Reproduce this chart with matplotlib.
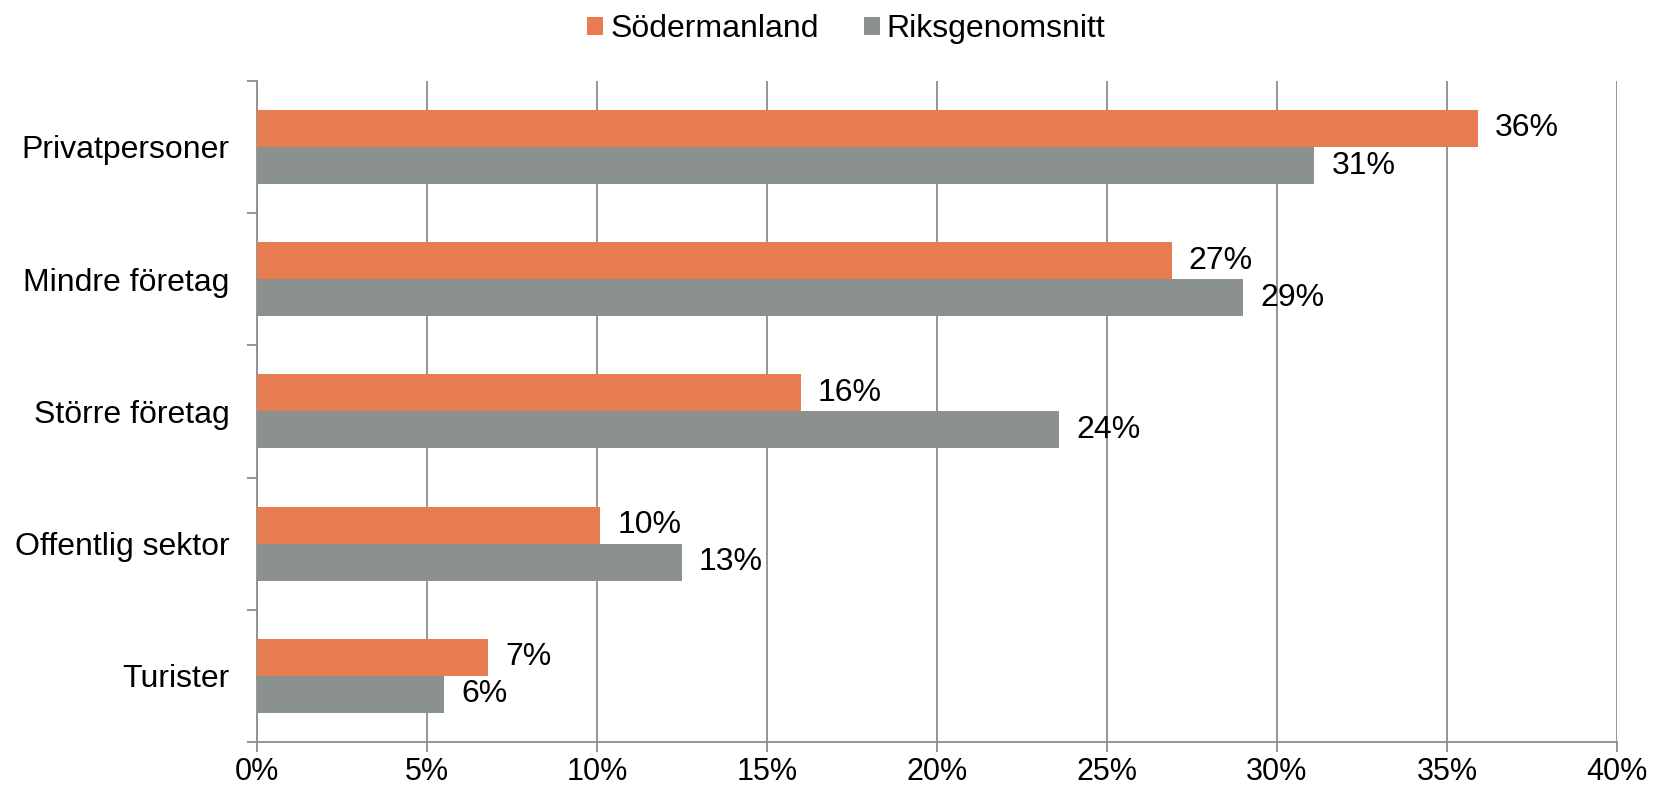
import matplotlib.pyplot as plt
import numpy as np

plt.rcParams['font.family'] = ['Liberation Sans', 'DejaVu Sans']

categories = ['Privatpersoner', 'Mindre företag', 'Större företag', 'Offentlig sektor', 'Turister']
sodermanland = [35.9, 26.9, 16.0, 10.1, 6.8]
riks = [31.1, 29.0, 23.6, 12.5, 5.5]
sod_labels = ['36%', '27%', '16%', '10%', '7%']
riks_labels = ['31%', '29%', '24%', '13%', '6%']

col_sod = '#E67C50'
col_riks = '#8B918F'
grid_col = '#8C8C8C'
fs = 23

fig = plt.figure(figsize=(16.66, 7.93), dpi=100)
ax = fig.add_axes([0.1543, 0.0643, 0.8163, 0.8337])

y = np.arange(len(categories))
h = 0.28
ax.barh(y - h / 2, sodermanland, height=h, color=col_sod, label='Södermanland', zorder=3)
ax.barh(y + h / 2, riks, height=h, color=col_riks, label='Riksgenomsnitt', zorder=3)

for i in range(len(categories)):
    ax.text(sodermanland[i] + 0.5, y[i] - h / 2, sod_labels[i], va='center', ha='left', fontsize=fs)
    ax.text(riks[i] + 0.5, y[i] + h / 2, riks_labels[i], va='center', ha='left', fontsize=fs)

ax.set_xlim(0, 40)
ax.set_ylim(len(categories) - 0.5, -0.5)
ax.set_xticks(np.arange(0, 41, 5))
ax.set_xticklabels([f'{v}%' for v in range(0, 41, 5)], fontsize=22)
ax.set_yticks(y)
ax.set_yticklabels(categories, fontsize=fs)
ax.set_yticks(np.arange(-0.5, len(categories), 1), minor=True)
ax.tick_params(axis='y', which='major', length=0, pad=20)
ax.tick_params(axis='y', which='minor', length=7, color=grid_col, width=1.3)
ax.tick_params(axis='x', length=7, color=grid_col, width=1.3, pad=3.5)

ax.grid(axis='x', color=grid_col, linewidth=1.3, zorder=0)
for s in ['top', 'right']:
    ax.spines[s].set_visible(False)
for s in ['left', 'bottom']:
    ax.spines[s].set_color(grid_col)
    ax.spines[s].set_linewidth(1.3)

fig.legend(loc='upper center', bbox_to_anchor=(0.508, 1.018), ncol=2, frameon=False,
           fontsize=fs, handlelength=0.5, handleheight=0.5, handletextpad=0.22, columnspacing=1.4)

fig.savefig('out.png', dpi=100)
